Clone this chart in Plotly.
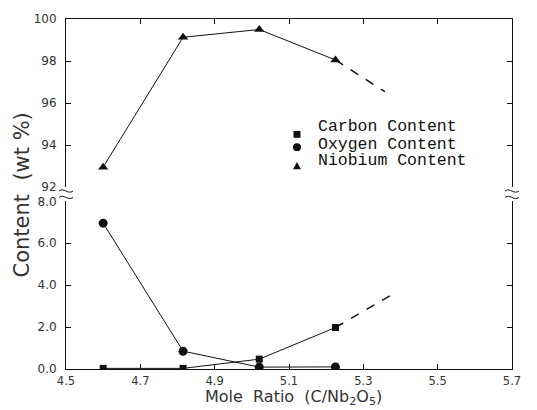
import plotly.graph_objects as go

# ---- data ----
mole_ratio = [4.60, 4.815, 5.02, 5.225]
niobium = [92.95, 99.13, 99.50, 98.05]
oxygen = [6.96, 0.85, 0.09, 0.10]
carbon = [0.03, 0.03, 0.47, 1.98]
niobium_trend_x = [5.225, 5.358]
niobium_trend_y = [98.05, 96.54]
carbon_trend_x = [5.225, 5.38]
carbon_trend_y = [1.98, 3.58]

x_ticks = [4.5, 4.7, 4.9, 5.1, 5.3, 5.5, 5.7]
top_ticks = [92, 94, 96, 98, 100]
bottom_ticks = [0, 2, 4, 6, 8]
bottom_tick_text = ["0.0", "2.0", "4.0", "6.0", "8.0"]
legend_labels = ["Carbon Content", "Oxygen Content", "Niobium Content"]

# ---- layout geometry (pixels) ----
W, H = 537, 410
L, R, T, B = 66, 25, 14, 41
PW, PH = W - L - R, H - T - B


def px(xp):
    return (xp - L) / PW


def py(yp):
    return (H - B - yp) / PH


top_domain = [py(184.5), 1.0]
bottom_domain = [0.0, py(199)]

INK = "#111111"
TXT = "#333333"

fig = go.Figure()

# Niobium (top panel)
fig.add_trace(go.Scatter(
    x=mole_ratio, y=niobium, xaxis="x", yaxis="y2", mode="lines+markers",
    line=dict(color=INK, width=1),
    marker=dict(symbol="triangle-up", size=9, color=INK),
    showlegend=False))
fig.add_trace(go.Scatter(
    x=niobium_trend_x, y=niobium_trend_y, xaxis="x", yaxis="y2", mode="lines",
    line=dict(color=INK, width=1.5, dash="dash"), showlegend=False))

# Oxygen & carbon (bottom panel)
fig.add_trace(go.Scatter(
    x=mole_ratio, y=oxygen, xaxis="x", yaxis="y", mode="lines+markers",
    line=dict(color=INK, width=1),
    marker=dict(symbol="circle", size=9, color=INK),
    showlegend=False))
fig.add_trace(go.Scatter(
    x=mole_ratio, y=carbon, xaxis="x", yaxis="y", mode="lines+markers",
    line=dict(color=INK, width=1),
    marker=dict(symbol="square", size=7, color=INK),
    showlegend=False))
fig.add_trace(go.Scatter(
    x=carbon_trend_x, y=carbon_trend_y, xaxis="x", yaxis="y", mode="lines",
    line=dict(color=INK, width=1.5, dash="dash"), showlegend=False))

# invisible trace for top x axis
fig.add_trace(go.Scatter(x=[x_ticks[0]], y=[top_ticks[0]], xaxis="x2", yaxis="y2",
                         mode="markers", marker=dict(opacity=0), hoverinfo="skip",
                         showlegend=False))

axis_common = dict(showgrid=False, zeroline=False, showline=True, linecolor=INK,
                   linewidth=1, ticks="inside", ticklen=5, tickcolor=INK)
yfont = dict(family="DejaVu Sans", size=12, color=TXT)
xfont = dict(family="DejaVu Sans", size=11.5, color=TXT)

fig.update_layout(
    width=W, height=H,
    margin=dict(l=L, r=R, t=T, b=B),
    paper_bgcolor="white", plot_bgcolor="white",
    xaxis=dict(range=[4.5, 5.7], tickvals=x_ticks, tickformat=".1f",
               anchor="y", ticklabelstandoff=1, tickfont=xfont, **axis_common),
    xaxis2=dict(range=[4.5, 5.7], tickvals=x_ticks, overlaying="x", matches="x",
                anchor="y2", side="top", showticklabels=False, **axis_common),
    yaxis=dict(range=[0, 8], domain=bottom_domain, tickvals=bottom_ticks,
               ticktext=bottom_tick_text, anchor="x", mirror="ticks",
               ticklabelstandoff=6, tickfont=yfont, **axis_common),
    yaxis2=dict(range=[92, 100], domain=top_domain, tickvals=top_ticks,
                anchor="x", mirror="ticks", ticklabelstandoff=6, tickfont=yfont,
                **axis_common),
    showlegend=False,
)

shapes = []
# axis-break squiggles on left and right borders
for ax in (L, L + PW):
    for yc in (188.5, 195.0):
        x0, x1, x2, x3 = px(ax - 7), px(ax - 2), px(ax + 2), px(ax + 7)
        y0, y1, y2 = py(yc), py(yc - 4), py(yc + 4)
        shapes.append(dict(type="path", xref="paper", yref="paper",
                           path=f"M {x0},{y0} C {x1},{y1} {x2},{y2} {x3},{y0}",
                           line=dict(color=INK, width=1)))

# legend symbols
mx = 297
shapes.append(dict(type="rect", xref="paper", yref="paper",
                   x0=px(mx - 3.5), x1=px(mx + 3.5), y0=py(127.5), y1=py(134.5),
                   fillcolor=INK, line=dict(width=0)))
shapes.append(dict(type="circle", xref="paper", yref="paper",
                   x0=px(mx - 4), x1=px(mx + 4), y0=py(140), y1=py(148),
                   fillcolor=INK, line=dict(width=0)))
shapes.append(dict(type="path", xref="paper", yref="paper",
                   path=f"M {px(mx-4)},{py(166.5)} L {px(mx+4)},{py(166.5)} L {px(mx)},{py(159)} Z",
                   fillcolor=INK, line=dict(width=0)))
fig.update_layout(shapes=shapes)

annotations = []
for label, yc in zip(legend_labels, (123.5, 141, 158)):
    annotations.append(dict(text=label, xref="paper", yref="paper", x=px(316), y=py(yc),
                            xanchor="left", yanchor="middle", showarrow=False,
                            font=dict(family="Liberation Mono", size=16.5, color=INK)))
annotations.append(dict(text="Content  (wt %)", xref="paper", yref="paper",
                        x=px(22), y=py(193), textangle=-90, showarrow=False,
                        xanchor="center", yanchor="middle",
                        font=dict(family="DejaVu Sans", size=21, color=TXT)))
annotations.append(dict(text="Mole  Ratio  (C/Nb<sub>2</sub>O<sub>5</sub>)", xref="paper", yref="paper",
                        x=px(293), y=py(411), showarrow=False,
                        xanchor="center", yanchor="bottom",
                        font=dict(family="DejaVu Sans", size=16, color=TXT)))
fig.update_layout(annotations=annotations)

fig.write_html("out.html", config={"displayModeBar": False},
               post_script="document.body.style.margin='0';document.body.style.overflow='hidden';")
